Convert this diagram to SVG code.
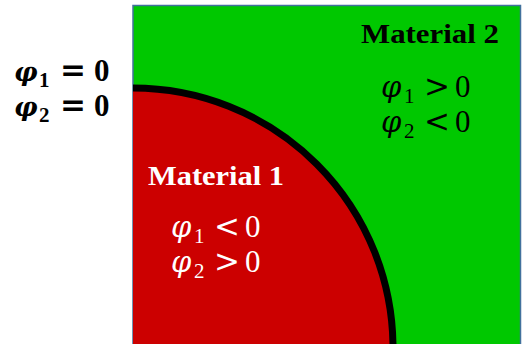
<svg xmlns="http://www.w3.org/2000/svg" width="524" height="344" viewBox="0 0 524 344">
<style>
.m{font-family:"Liberation Serif","Times New Roman",serif;font-size:31px}
.phi{font-family:"DejaVu Serif",serif;font-style:italic;font-size:29px}
.bphi{font-family:"DejaVu Serif",serif;font-style:italic;font-size:26px}
.rel{font-family:"DejaVu Serif",serif;font-size:31px}
.sub{font-size:21px}
.b{font-weight:bold}
.title{font-family:"Liberation Serif","Times New Roman",serif;font-weight:bold;font-size:28px}
</style>
<rect width="524" height="344" fill="#ffffff"/>
<g id="domain">
<rect x="133" y="5.5" width="387.5" height="345" fill="#00C800" stroke="#41719C" stroke-width="1.5"/>
</g>
<g id="material1">
<path d="M133,88 A260,260 0 0 1 393,348 L133,348 Z" fill="#CC0000"/>
</g>
<g id="connectors">
<path d="M133,88 A260,260 0 0 1 393,348" fill="none" stroke="#000000" stroke-width="7"/>
</g>
<g id="label-interface" class="m b">
<text y="81"><tspan x="14" class="bphi">φ</tspan><tspan x="39" dy="6" class="sub">1</tspan><tspan x="60" dy="-6" class="rel">=</tspan><tspan x="94">0</tspan></text>
<text y="116"><tspan x="14" class="bphi">φ</tspan><tspan x="39" dy="6" class="sub">2</tspan><tspan x="60" dy="-6" class="rel">=</tspan><tspan x="94">0</tspan></text>
</g>
<g id="label-material2">
<text class="title" x="361" y="43" textLength="138" lengthAdjust="spacingAndGlyphs" fill="#000000">Material 2</text>
<text class="m" y="97" fill="#000000"><tspan x="381" class="phi">φ</tspan><tspan x="404" dy="6" class="sub">1</tspan><tspan x="424" dy="-6" class="rel">&gt;</tspan><tspan x="455">0</tspan></text>
<text class="m" y="132" fill="#000000"><tspan x="381" class="phi">φ</tspan><tspan x="404" dy="6" class="sub">2</tspan><tspan x="424" dy="-6" class="rel">&lt;</tspan><tspan x="455">0</tspan></text>
</g>
<g id="label-material1">
<text class="title" x="148" y="185" textLength="136" lengthAdjust="spacingAndGlyphs" fill="#ffffff">Material 1</text>
<text class="m" y="237" fill="#ffffff"><tspan x="171" class="phi">φ</tspan><tspan x="194" dy="6" class="sub">1</tspan><tspan x="214" dy="-6" class="rel">&lt;</tspan><tspan x="245">0</tspan></text>
<text class="m" y="272" fill="#ffffff"><tspan x="171" class="phi">φ</tspan><tspan x="194" dy="6" class="sub">2</tspan><tspan x="214" dy="-6" class="rel">&gt;</tspan><tspan x="245">0</tspan></text>
</g>
</svg>
